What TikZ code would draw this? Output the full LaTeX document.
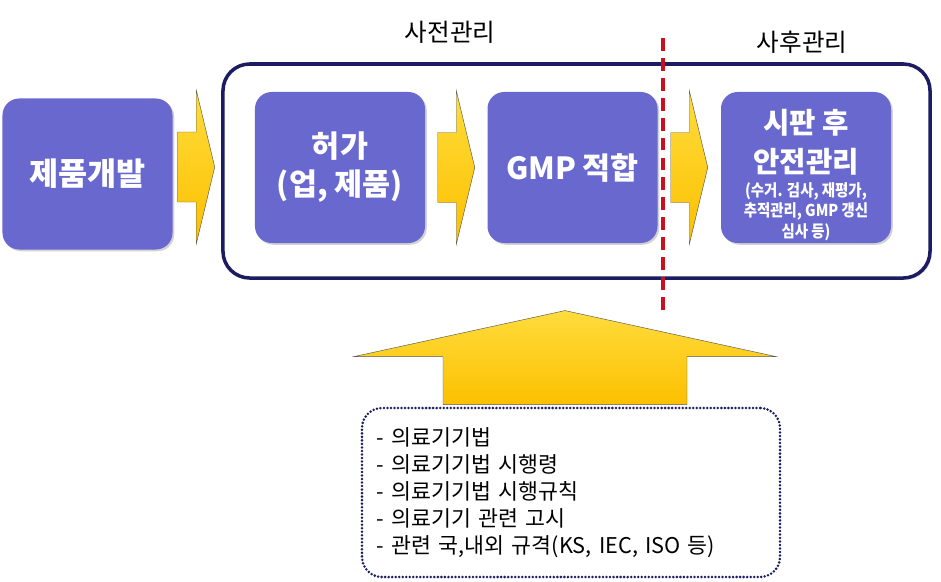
\documentclass[tikz,border=0pt]{standalone}
\usepackage{fontspec}
\setmainfont{Noto Sans CJK KR}
\newfontfamily\condfont[FakeStretch=0.88]{Noto Sans CJK KR}
\newfontfamily\lawfont[WordSpace=3.2]{Noto Sans CJK KR}
\usepackage{tikz}
\usetikzlibrary{calc}
\usetikzlibrary{shadows}
\definecolor{boxblue}{RGB}{104,104,206}
\definecolor{framenavy}{RGB}{28,28,98}
\definecolor{gold1}{RGB}{255,220,60}
\definecolor{gold2}{RGB}{252,192,0}
\definecolor{divred}{RGB}{200,16,30}
\tikzset{
  yfill/.style={top color=gold1, bottom color=gold2, draw=gray!70!black, line width=0.4pt},
  yarr/.pic={\draw[yfill] (-18.5,-35) -- (0,-35) -- (0,-77) -- (18.5,0) -- (0,77) -- (0,35) -- (-18.5,35) -- cycle;},
}

\begin{document}
\begin{tikzpicture}[x=0.03cm, y=-0.03cm,
    stage/.style={rectangle, rounded corners=0.5cm,
      minimum width=5.1cm, minimum height=4.53cm, inner sep=2pt,
      fill=boxblue, text=white, align=center,
      font=\fontsize{26}{32.5}\selectfont\bfseries,
      drop shadow={shadow xshift=1.5pt, shadow yshift=-1.5pt, opacity=0.35}},
    stagetext/.style={text=white, align=center, inner sep=0pt,
      font=\fontsize{24.5}{32.5}\selectfont\bfseries},
    frame/.style={rectangle, rounded corners=0.8cm,
      minimum width=21.21cm, minimum height=6.42cm,
      draw=framenavy, line width=3pt, fill=white,
      drop shadow={shadow xshift=1.5pt, shadow yshift=-1.5pt, opacity=0.3}},
    tag/.style={font=\fontsize{21}{24}\selectfont},
    law/.style={rectangle, rounded corners=0.6cm,
      minimum width=12.54cm, minimum height=5.07cm,
      text width=11.64cm, inner xsep=0.45cm, align=left,
      draw=framenavy, line width=2.4pt, dash pattern=on 0pt off 3pt, line cap=round,
      font=\lawfont\fontsize{18.5}{23}\selectfont},
  ]
  \useasboundingbox (0,0) rectangle (941,582);

  \node[frame] (o) at (576.5,171) {};

  \node[stage, font=\fontsize{27}{32}\selectfont\bfseries] (a) at (87.5,174) {제품개발};
  \node[stage] (b) at (340,167.5) {허가\\(업, 제품)};
  \node[stage] (c) at (572.5,167.5) {GMP 적합};
  \node[stage] (d) at (806,167.5) {};
  \node[stagetext] (dt) at (d.center) {\rule{0pt}{36pt}시판 후\\안전관리\\[-12pt]
    {\condfont\bfseries\fontsize{14}{17.5}\selectfont
     \begin{tabular}[t]{@{}c@{}}(수거. 검사, 재평가,\\추적관리, GMP 갱신\\심사 등)\end{tabular}}};

  \pic at ($(a.east)+(23.5,-7)$) {yarr};
  \pic at ($(b.east)!0.5!(c.west)$) {yarr};
  \pic at ($(c.east)!0.5!(d.west)$) {yarr};

  \node[tag] (pre) at (450,32) {사전관리};
  \node[tag] (post) at (802,42) {사후관리};

  \draw[divred, line width=3pt, dash pattern=on 11pt off 6pt] (663,38) -- (663,316);

  \node[law] (f) at (571,492.5) {- 의료기기법\\
    - 의료기기법 시행령\\
    - 의료기기법 시행규칙\\
    - 의료기기 관련 고시\\
    - 관련 국,내외 규격(KS, IEC, ISO 등)};

  \draw[yfill] ($(f.north)+(-128,-2)$) -- ++(0,-48) -- ++(-89,0)
    -- ($(f.north)+(-6,-96)$) -- ($(f.north)+(205,-50)$) -- ++(-89,0)
    -- ++(0,48) -- cycle;
\end{tikzpicture}
\end{document}
